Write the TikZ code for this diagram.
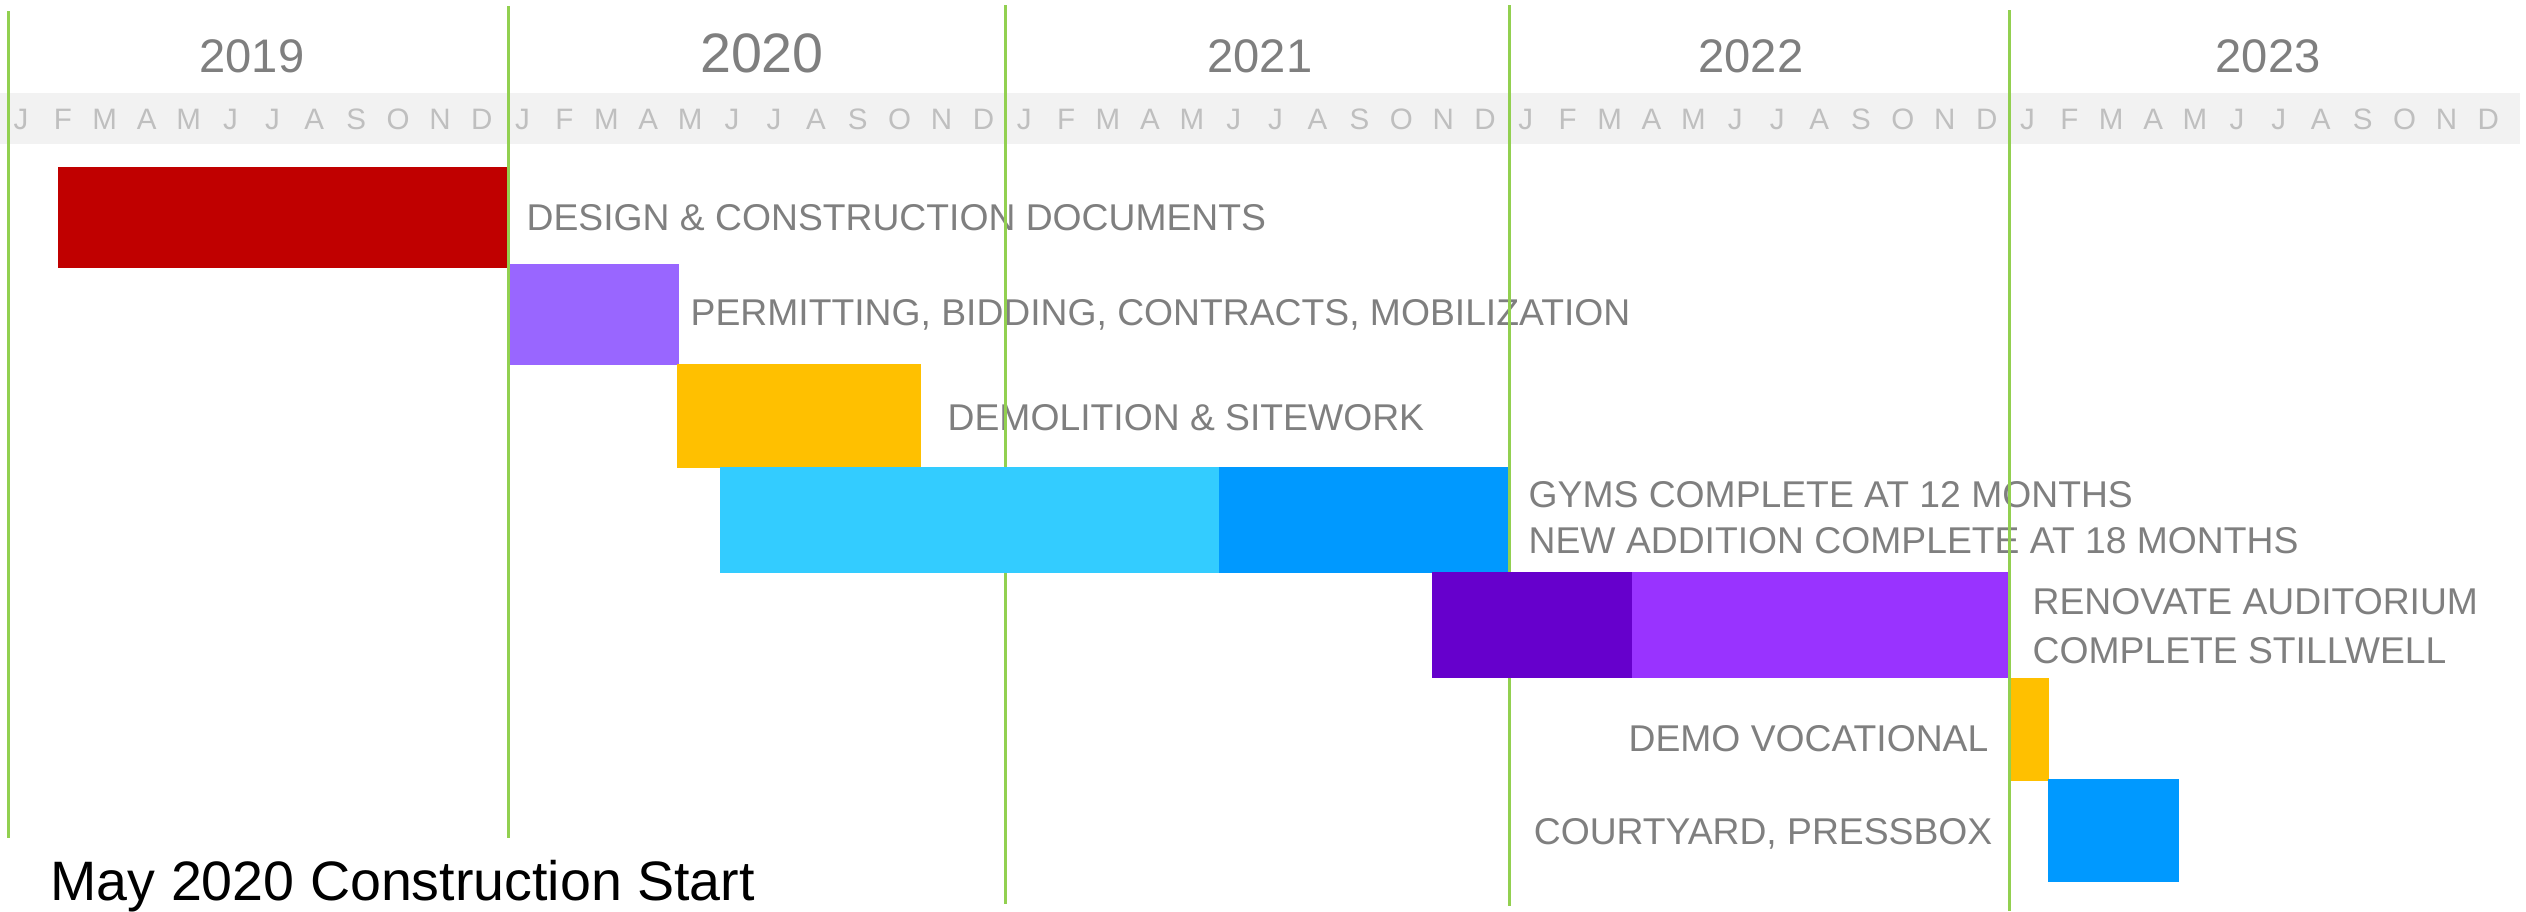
\documentclass[tikz,border=0pt]{standalone}
\usepackage{fontspec}
\setmainfont{Liberation Sans}
\definecolor{labelgray}{RGB}{127, 127, 127}
\definecolor{monthgray}{RGB}{191, 191, 191}
\definecolor{bandgray}{RGB}{242, 242, 242}
\definecolor{yeargreen}{RGB}{146, 208, 80}
\definecolor{designred}{RGB}{192, 0, 0}
\definecolor{permitviolet}{RGB}{153, 102, 255}
\definecolor{demoorange}{RGB}{255, 192, 0}
\definecolor{gymcyan}{RGB}{51, 204, 255}
\definecolor{additionblue}{RGB}{0, 153, 255}
\definecolor{audpurple}{RGB}{102, 0, 204}
\definecolor{stillpurple}{RGB}{153, 51, 255}

\begin{document}
\begin{tikzpicture}[x=0.01cm, y=-0.01cm,
  task/.style={inner sep=0pt, text=labelgray, font=\fontsize{10.6}{12.7}\selectfont},
  yearlabel/.style={anchor=base, inner sep=0pt, text=labelgray, font=\fontsize{13.4}{16}\selectfont},
  monthlabel/.style={anchor=base, inner sep=0pt, text=monthgray, font=\fontsize{8.4}{10}\selectfont},
  yearline/.style={draw=yeargreen, line width=0.7pt}]
  \useasboundingbox (0,0) rectangle (2526,911);

  % Month band
  \fill[bandgray] (0,93) rectangle (2520,144);

  % Years
  \node[yearlabel] (y2019) at (252,72) {2019};
  \node[yearlabel, font=\fontsize{15.8}{19}\selectfont] (y2020) at (762,72) {2020};
  \node[yearlabel] (y2021) at (1260,72) {2021};
  \node[yearlabel] (y2022) at (1751,72) {2022};
  \node[yearlabel] (y2023) at (2268,72) {2023};

  % Months
  \foreach \yr in {0,...,4}
    \foreach \m/\ltr in {0/J,1/F,2/M,3/A,4/M,5/J,6/J,7/A,8/S,9/O,10/N,11/D}
      \node[monthlabel] (m-\yr-\m) at (21+501.6*\yr+41.9*\m, 129.3) {\ltr};

  % Task labels
  \node[task, anchor=base west] (design) at (526,230) {DESIGN \& CONSTRUCTION DOCUMENTS};
  \node[task, anchor=base west] (permit) at (690,325) {PERMITTING, BIDDING, CONTRACTS, MOBILIZATION};
  \node[task, anchor=base west] (demo) at (947,430) {DEMOLITION \& SITEWORK};
  \node[task, anchor=base west] (gyms) at (1528,507) {GYMS COMPLETE AT 12 MONTHS};
  \node[task, anchor=base west] (addition) at (1528,553) {NEW ADDITION COMPLETE AT 18 MONTHS};
  \node[task, anchor=base west] (auditorium) at (2032,614) {RENOVATE AUDITORIUM};
  \node[task, anchor=base west] (stillwell) at (2032,663) {COMPLETE STILLWELL};
  \node[task, anchor=base east] (vocational) at (1989,751) {DEMO VOCATIONAL};
  \node[task, anchor=base east] (courtyard) at (1993,844) {COURTYARD, PRESSBOX};

  % Year boundaries
  \draw[yearline] (8.3,11) -- (8.3,838);
  \draw[yearline] (508.3,6) -- (508.3,838);
  \draw[yearline] (1005.3,5) -- (1005.3,904);
  \draw[yearline] (1509.3,5) -- (1509.3,906);
  \draw[yearline] (2009.3,10) -- (2009.3,911);

  % Bars
  \fill[designred] (58,167) rectangle (507,268);
  \fill[permitviolet] (510,264) rectangle (679,365);
  \fill[demoorange] (677,364) rectangle (921,468);
  \fill[gymcyan] (720,467) rectangle (1220,573);
  \fill[additionblue] (1219,467) rectangle (1508,573);
  \fill[audpurple] (1432,572) rectangle (1633,678);
  \fill[stillpurple] (1632,572) rectangle (2008,678);
  \fill[demoorange] (2011,678) rectangle (2049,781);
  \fill[additionblue] (2048,779) rectangle (2179,882);

  % Start note
  \node[anchor=base west, inner sep=0pt, font=\fontsize{15.8}{19}\selectfont] (start) at (50,900) {May 2020 Construction Start};
\end{tikzpicture}
\end{document}
